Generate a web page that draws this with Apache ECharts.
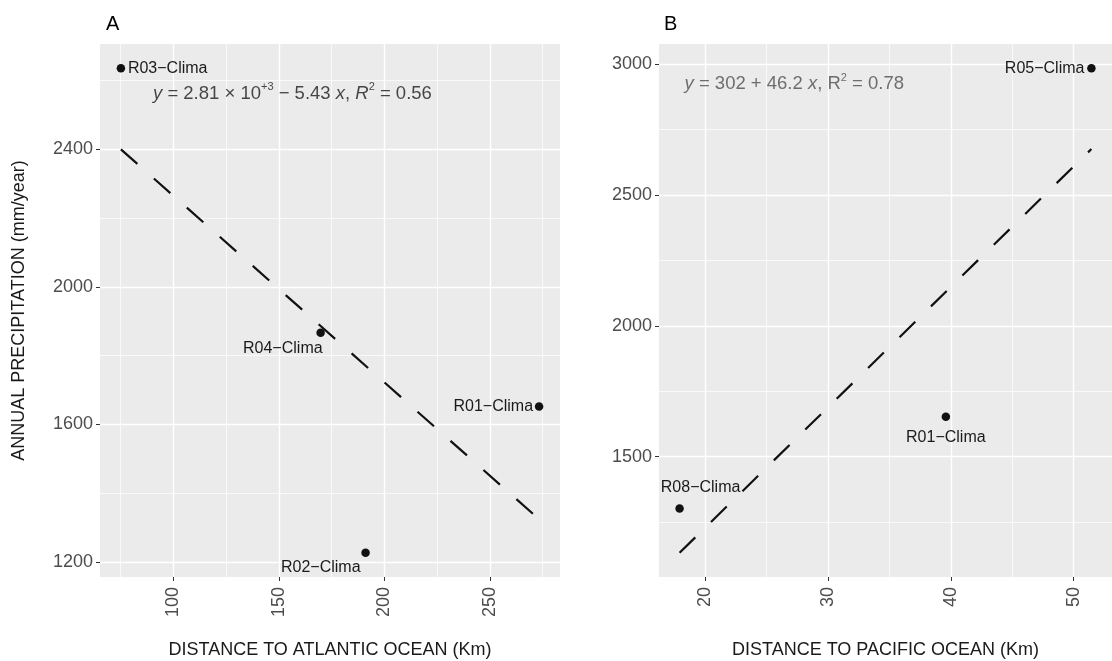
<!DOCTYPE html>
<html>
<head>
<meta charset="utf-8">
<script src="https://cdn.jsdelivr.net/npm/echarts@6/dist/echarts.min.js"></script>
<style>
html,body{margin:0;padding:0;background:#fff;}
#c{width:1112px;height:661px;}
</style>
</head>
<body>
<div id="c"></div>
<script>
// ---- Data ----
const atlNames = ['R01-Clima', 'R02-Clima', 'R03-Clima', 'R04-Clima'];
const atlDistance = [273.3, 191.1, 75.2, 169.8];
const atlPrecip = [1652, 1227, 2636, 1867];

const pacNames = ['R01-Clima', 'R08-Clima', 'R05-Clima'];
const pacDistance = [39.6, 17.94, 51.44];
const pacPrecip = [1652, 1301, 2985];

const atlXTicks = [100, 150, 200, 250];
const atlXMinor = [75, 125, 175, 225, 275];
const atlYTicks = [1200, 1600, 2000, 2400];
const atlYMinor = [1400, 1800, 2200, 2600];
const pacXTicks = [20, 30, 40, 50];
const pacXMinor = [25, 35, 45];
const pacYTicks = [1500, 2000, 2500, 3000];
const pacYMinor = [1250, 1750, 2250, 2750];

// ---- helpers ----
function fit(xs, ys) {
  const n = xs.length;
  const mx = xs.reduce((a, b) => a + b, 0) / n;
  const my = ys.reduce((a, b) => a + b, 0) / n;
  let sxy = 0, sxx = 0;
  for (let i = 0; i < n; i++) { sxy += (xs[i] - mx) * (ys[i] - my); sxx += (xs[i] - mx) ** 2; }
  const b = sxy / sxx, a = my - b * mx;
  const x0 = Math.min(...xs), x1 = Math.max(...xs);
  return [[x0, a + b * x0], [x1, a + b * x1]];
}
function expand(vals, f) {
  const lo = Math.min(...vals), hi = Math.max(...vals), d = (hi - lo) * f;
  return [lo - d, hi + d];
}

const FONT = '"Liberation Sans", Arial, sans-serif';
const fitA = fit(atlDistance, atlPrecip);
const fitB = fit(pacDistance, pacPrecip);
const xA = expand(atlDistance, 0.05), yA = expand(atlPrecip.concat(fitA.map(p => p[1])), 0.05);
const xB = expand(pacDistance, 0.05), yB = expand(pacPrecip.concat(fitB.map(p => p[1])), 0.05);

// label placements (styling only)
const placeA = {
  'R01-Clima': { align: 'right', offset: [-6, 0] },
  'R02-Clima': { align: 'right', offset: [-5, 15] },
  'R03-Clima': { align: 'left', offset: [7, 0] },
  'R04-Clima': { align: 'right', offset: [2, 16] }
};
const placeB = {
  'R01-Clima': { align: 'center', offset: [0, 21] },
  'R08-Clima': { align: 'center', offset: [21, -21] },
  'R05-Clima': { align: 'right', offset: [-7, 0] }
};

function pts(names, xs, ys, place) {
  return names.map((nm, i) => ({
    value: [xs[i], ys[i]],
    name: nm,
    label: {
      show: true, position: 'inside', formatter: nm.replace('-', '\u2212'),
      align: place[nm].align, verticalAlign: 'middle', offset: place[nm].offset,
      color: '#1a1a1a', fontSize: 16, fontFamily: FONT
    }
  }));
}

const plain = v => String(v);

function majorX(grid, range, ticks) {
  return {
    type: 'value', gridIndex: grid, min: range[0], max: range[1],
    axisLine: { show: false },
    axisTick: { show: true, length: 4, lineStyle: { color: '#333', width: 1 }, customValues: ticks },
    axisLabel: { customValues: ticks, rotate: 90, color: '#4d4d4d', fontSize: 18, fontFamily: FONT, margin: 10, formatter: plain },
    splitLine: { show: true, lineStyle: { color: '#ffffff', width: 1.4 } },
    nameLocation: 'middle', nameGap: 64,
    nameTextStyle: { color: '#1a1a1a', fontSize: 18, fontFamily: FONT }
  };
}
function minorAxis(type, grid, range, ticks) {
  return {
    type: 'value', gridIndex: grid, min: range[0], max: range[1], position: type === 'x' ? 'top' : 'right',
    axisLine: { show: false },
    axisTick: { show: false, customValues: ticks },
    axisLabel: { show: false, customValues: ticks },
    splitLine: { show: true, lineStyle: { color: '#ffffff', width: 0.7 } }
  };
}
function majorY(grid, range, ticks) {
  return {
    type: 'value', gridIndex: grid, min: range[0], max: range[1],
    axisLine: { show: false },
    axisTick: { show: true, length: 4, lineStyle: { color: '#333', width: 1 }, customValues: ticks },
    axisLabel: { customValues: ticks, color: '#4d4d4d', fontSize: 18, fontFamily: FONT, margin: 7, formatter: plain },
    splitLine: { show: true, lineStyle: { color: '#ffffff', width: 1.4 } },
    nameLocation: 'middle', nameGap: 72, nameRotate: 90,
    nameTextStyle: { color: '#1a1a1a', fontSize: 18, fontFamily: FONT }
  };
}

const xAxA = majorX(0, xA, atlXTicks); xAxA.name = 'DISTANCE TO ATLANTIC OCEAN (Km)';
const xAxB = majorX(1, xB, pacXTicks); xAxB.name = 'DISTANCE TO PACIFIC OCEAN (Km)';
const yAxA = majorY(0, yA, atlYTicks); yAxA.name = 'ANNUAL PRECIPITATION (mm/year)';
const yAxB = majorY(1, yB, pacYTicks);

const eqRich = (color) => ({
  t: { fontSize: 18.5, color: color, fontFamily: FONT, lineHeight: 24, verticalAlign: 'bottom' },
  i: { fontSize: 18.5, color: color, fontFamily: FONT, fontStyle: 'italic', lineHeight: 24, verticalAlign: 'bottom' },
  s: { fontSize: 11, color: color, fontFamily: FONT, lineHeight: 24, verticalAlign: 'top', padding: [3, 0, 0, 0] }
});
const eqA = '{i|y}{t| = 2.81 \u00d7 10}{s|+3}{t| \u2212 5.43 }{i|x}{t|, }{i|R}{s|2}{t| = 0.56}';
const eqB = '{i|y}{t| = 302 + 46.2 }{i|x}{t|, R}{s|2}{t| = 0.78}';

const option = {
  animation: false,
  backgroundColor: '#ffffff',
  title: [
    { text: 'A', left: 101, top: 9, textStyle: { fontSize: 20, fontWeight: 'normal', color: '#000', fontFamily: FONT } },
    { text: 'B', left: 659, top: 9, textStyle: { fontSize: 20, fontWeight: 'normal', color: '#000', fontFamily: FONT } }
  ],
  grid: [
    { left: 100, top: 44, width: 460, height: 533, show: true, backgroundColor: '#EBEBEB', borderWidth: 0, outerBoundsMode: 'none', containLabel: false },
    { left: 659, top: 44, width: 453, height: 533, show: true, backgroundColor: '#EBEBEB', borderWidth: 0, outerBoundsMode: 'none', containLabel: false }
  ],
  xAxis: [xAxA, xAxB, minorAxis('x', 0, xA, atlXMinor), minorAxis('x', 1, xB, pacXMinor)],
  yAxis: [yAxA, yAxB, minorAxis('y', 0, yA, atlYMinor), minorAxis('y', 1, yB, pacYMinor)],
  series: [
    {
      type: 'line', xAxisIndex: 0, yAxisIndex: 0, data: fitA, symbol: 'none', silent: true,
      lineStyle: { color: '#111', width: 2.2, type: [22, 22], cap: 'butt' }, z: 3
    },
    {
      type: 'line', xAxisIndex: 1, yAxisIndex: 1, data: fitB, symbol: 'none', silent: true,
      lineStyle: { color: '#111', width: 2.2, type: [22, 22], cap: 'butt' }, z: 3
    },
    {
      type: 'scatter', xAxisIndex: 0, yAxisIndex: 0, symbolSize: 8.5,
      itemStyle: { color: '#111', opacity: 1 }, data: pts(atlNames, atlDistance, atlPrecip, placeA), z: 4
    },
    {
      type: 'scatter', xAxisIndex: 1, yAxisIndex: 1, symbolSize: 8.5,
      itemStyle: { color: '#111', opacity: 1 }, data: pts(pacNames, pacDistance, pacPrecip, placeB), z: 4
    },
    {
      type: 'scatter', xAxisIndex: 0, yAxisIndex: 0, symbolSize: 0, silent: true,
      data: [[90.4, 2570]],
      label: { show: true, position: 'inside', align: 'left', verticalAlign: 'middle', formatter: eqA, rich: eqRich('#1a1a1a') }
    },
    {
      type: 'scatter', xAxisIndex: 1, yAxisIndex: 1, symbolSize: 0, silent: true,
      data: [[18.34, 2935]],
      label: { show: true, position: 'inside', align: 'left', verticalAlign: 'middle', formatter: eqB, rich: eqRich('#4d4d4d') }
    }
  ]
};

const chart = echarts.init(document.getElementById('c'), null, { renderer: 'canvas' });
chart.setOption(option);
</script>
</body>
</html>
